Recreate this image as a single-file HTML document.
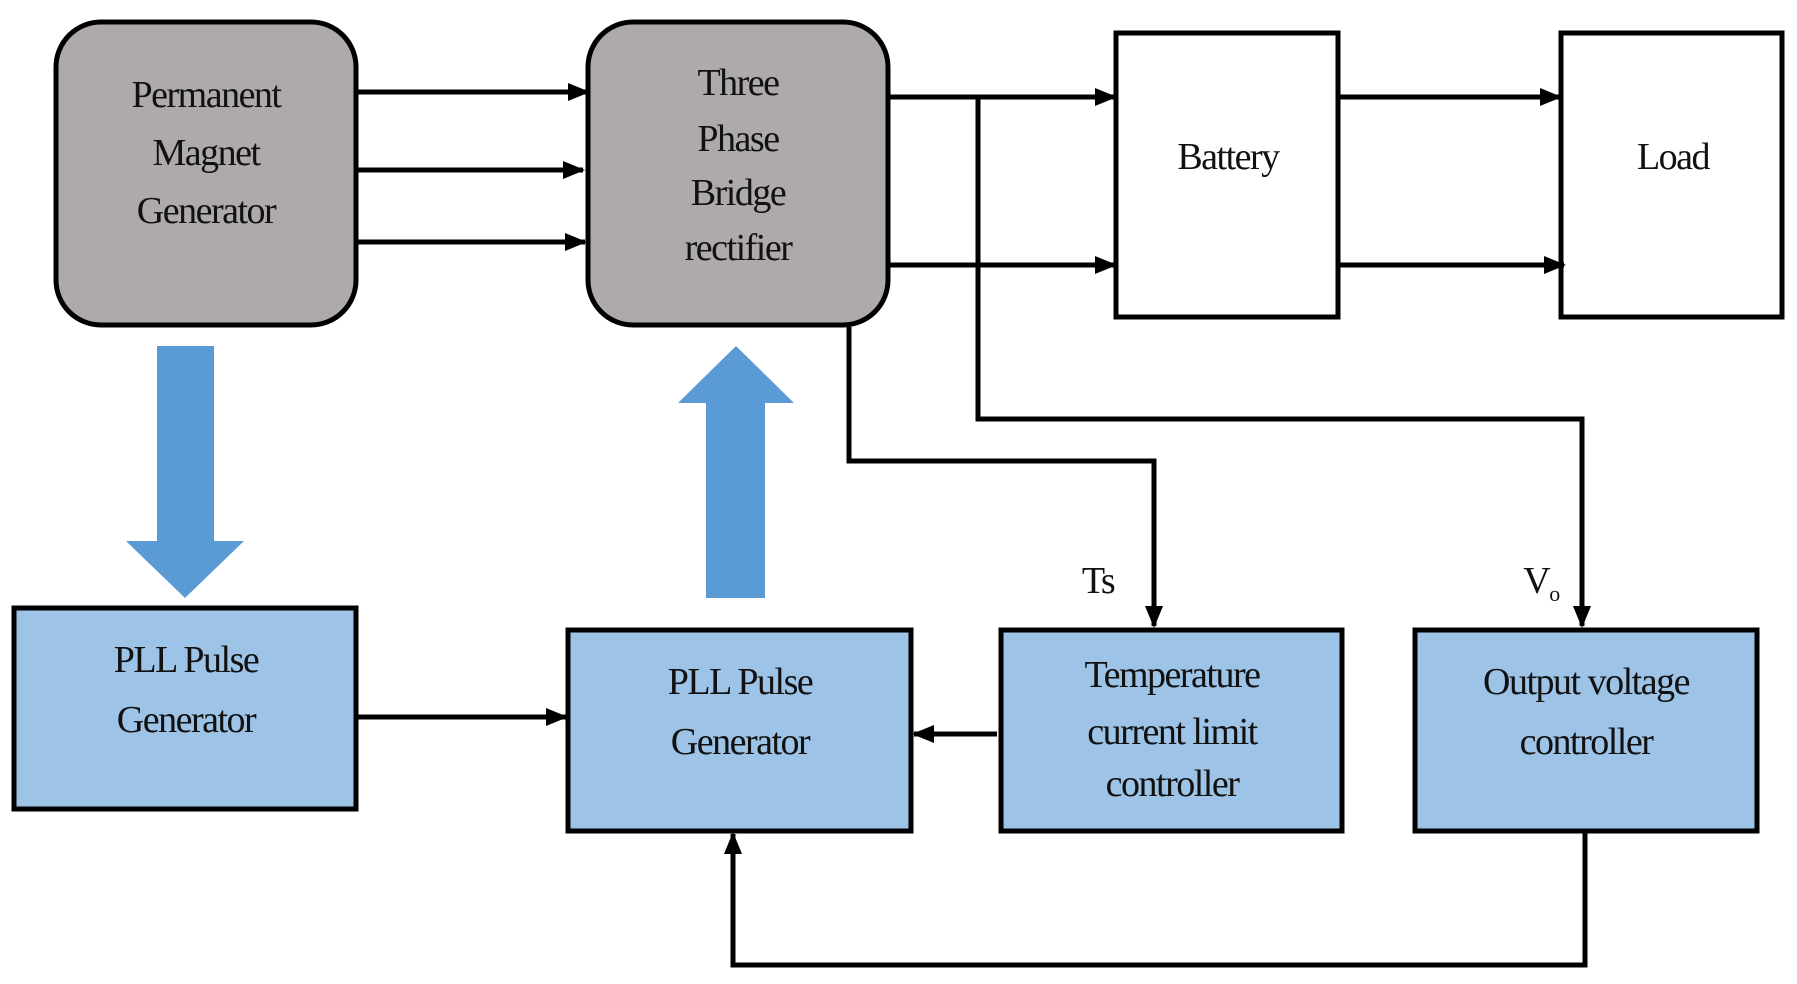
<!DOCTYPE html>
<html><head><style>
body{margin:0;background:#fff;}
svg{display:block}
text{font-family:"Liberation Serif",serif;font-size:38px;fill:#111;text-anchor:middle;letter-spacing:-1.5px}
</style></head><body>
<svg width="1797" height="984" viewBox="0 0 1797 984">
<defs>
<marker id="b" markerWidth="22" markerHeight="22" refX="20" refY="11" orient="auto" markerUnits="userSpaceOnUse"><path d="M0,2 L22,11 L0,20z" fill="#000"/></marker></defs>
<g stroke="#000" stroke-width="5">
<rect x="56" y="22" width="300" height="303" rx="45" fill="#aeaaaa"/>
<rect x="588" y="22" width="300" height="303" rx="45" fill="#aeaaaa"/>
<rect x="1116" y="33" width="222" height="284" fill="#fff"/>
<rect x="1561" y="33" width="221" height="284" fill="#fff"/>
<rect x="14" y="608" width="342" height="201" fill="#9dc3e6"/>
<rect x="568" y="630" width="343" height="201" fill="#9dc3e6"/>
<rect x="1001" y="630" width="341" height="201" fill="#9dc3e6"/>
<rect x="1415" y="630" width="342" height="201" fill="#9dc3e6"/>
</g>
<g stroke="#000" stroke-width="5" fill="none" marker-end="url(#b)">
<line x1="358" y1="92" x2="588" y2="92"/>
<line x1="358" y1="170" x2="583" y2="170"/>
<line x1="358" y1="242" x2="585" y2="242"/>
<line x1="890" y1="97" x2="1115" y2="97"/>
<line x1="890" y1="265" x2="1115" y2="265"/>
<line x1="1340" y1="97" x2="1560" y2="97"/>
<line x1="1340" y1="265" x2="1564" y2="265"/>
<line x1="358" y1="717" x2="566" y2="717"/>
<line x1="997" y1="734" x2="914" y2="734"/>
<polyline points="978,97 978,419 1582,419 1582,626"/>
<polyline points="849,327 849,461 1154,461 1154,626"/>
<polyline points="1585,833 1585,965 733,965 733,834"/>
</g>
<path d="M157,346 H214 V541 H244 L185,598 L126,541 H157Z" fill="#5b9bd5"/>
<path d="M706,598 H765 V403 H794 L736,346 L678,403 H706Z" fill="#5b9bd5"/>
<text x="206" y="107">Permanent</text><text x="206" y="165">Magnet</text><text x="206" y="223">Generator</text>
<text x="738" y="95">Three</text><text x="738" y="151">Phase</text><text x="738" y="205">Bridge</text><text x="738" y="260">rectifier</text>
<text x="1228" y="169">Battery</text><text x="1673" y="169">Load</text>
<text x="186" y="672">PLL Pulse</text><text x="186" y="732">Generator</text>
<text x="740" y="694">PLL Pulse</text><text x="740" y="754">Generator</text>
<text x="1172" y="687">Temperature</text><text x="1172" y="744">current limit</text><text x="1172" y="796">controller</text>
<text x="1586" y="694">Output voltage</text><text x="1586" y="754">controller</text>
<text x="1098" y="593">Ts</text>
<text x="1541" y="593">V<tspan font-size="22" dy="8">o</tspan></text>
</svg>
</body></html>
